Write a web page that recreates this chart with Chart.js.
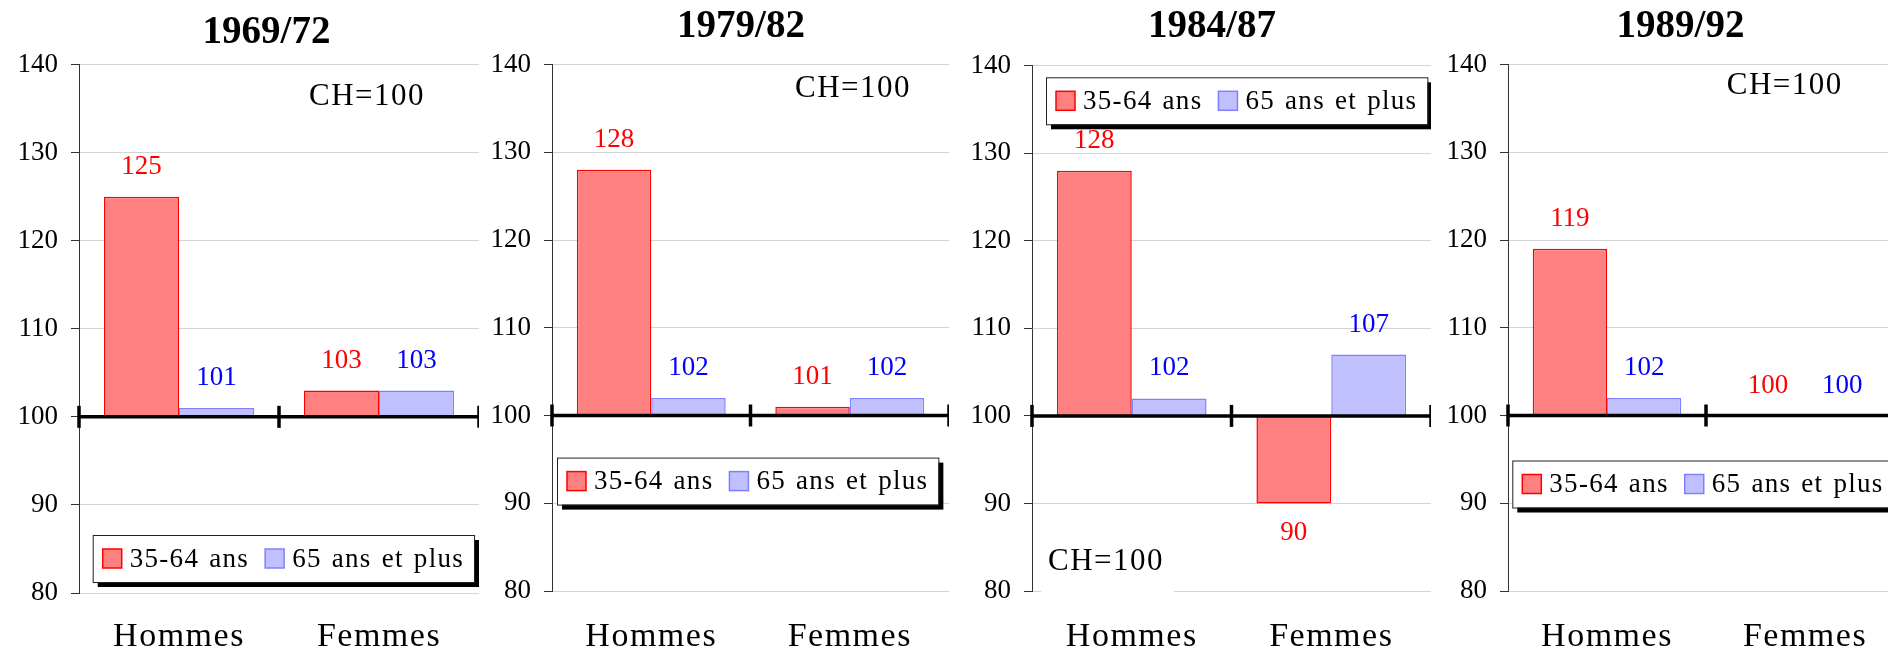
<!DOCTYPE html>
<html><head><meta charset="utf-8">
<script src="https://cdn.jsdelivr.net/npm/chart.js@4"></script>
<style>
html,body{margin:0;padding:0;background:#fff;overflow:hidden;width:1888px;height:651px;position:relative;}
.panel{position:absolute;top:0;}
</style></head><body>
<script>
// ---------- data ----------
const periods = ['1969/72', '1979/82', '1984/87', '1989/92'];
const categories = ['Hommes', 'Femmes'];
const seriesNames = ['35-64 ans', '65 ans et plus'];
const values3564 = [[125, 103], [128, 101], [128, 90], [119, 100]];
const values65plus = [[101, 103], [102, 102], [102, 107], [102, 100]];
const baseValue = 100;
const yMin = 80, yMax = 140, yStep = 10;
const noteText = 'CH=100';

// ---------- styles / layout ----------
const FONT = '"Liberation Serif", "Times New Roman", serif';
const fills = ['#FF8080', '#C0C0FF'];
const borders = ['#FF0000', '#8080FF'];
const labelColors = ['#FF0000', '#0000FF'];

const panelLayout = [
  {left: 0,    width: 479, padL: 54, yW: 25, tTop: 9.6, tBot: 8.1,  xH: 58, xPad: 23.2, legend: {x: 92.7, y: 535},   note: {x: 309,   y: 95.7,  bg: false}},
  {left: 473,  width: 476, padL: 60, yW: 19, tTop: 3.6, tBot: 14.1, xH: 60, xPad: 25.2, legend: {x: 84,   y: 457.6}, note: {x: 322,   y: 87.4,  bg: false}},
  {left: 953,  width: 478, padL: 40, yW: 39, tTop: 3.6, tBot: 15.3, xH: 60, xPad: 25.2, legend: {x: 93,   y: 77.3},  note: {x: 95,    y: 560.7, bg: true}},
  {left: 1429, width: 475, padL: 28, yW: 51, tTop: 3.6, tBot: 14.1, xH: 60, xPad: 25.2, legend: {x: 83.3, y: 460.5}, note: {x: 297.7, y: 85.3,  bg: false}}
];

Chart.defaults.font.family = FONT;
Chart.defaults.color = '#000';

const overlayPlugin = {
  id: 'overlay',
  afterLayout(chart) {
    const sc = chart.scales.x;
    if (sc && !sc._lsPatched) {
      const orig = sc.drawLabels;
      sc.drawLabels = function (area) {
        const c = this.ctx;
        c.save();
        c.letterSpacing = '1.5px';
        orig.call(this, area);
        c.restore();
      };
      sc._lsPatched = true;
    }
    const ys = chart.scales.y;
    if (ys && !ys._clipPatched) {
      ys._computeLabelArea = function () { return undefined; };
      ys._clipPatched = true;
    }
  },
  afterDatasetsDraw(chart, args, opts) {
    const ctx = chart.ctx;
    const area = chart.chartArea;
    const xs = chart.scales.x, ys = chart.scales.y;
    const y0 = ys.getPixelForValue(baseValue);
    const n = chart.data.labels.length;
    const step = n > 1 ? xs.getPixelForValue(1) - xs.getPixelForValue(0) : (area.right - area.left);
    ctx.save();
    // reference axis at 100
    ctx.strokeStyle = '#000';
    ctx.lineWidth = 3.5;
    ctx.beginPath();
    ctx.moveTo(area.left, y0);
    ctx.lineTo(area.right, y0);
    ctx.stroke();
    for (let k = 0; k <= n; k++) {
      const x = xs.getPixelForValue(0) - step / 2 + k * step;
      ctx.beginPath();
      ctx.moveTo(x, y0 - 11);
      ctx.lineTo(x, y0 + 11);
      ctx.stroke();
    }
    // value labels
    ctx.font = '27px ' + FONT;
    ctx.textAlign = 'center';
    ctx.textBaseline = 'middle';
    chart.data.datasets.forEach((d, i) => {
      const meta = chart.getDatasetMeta(i);
      meta.data.forEach((el, j) => {
        const v = d.data[j];
        const y = v >= baseValue ? el.y - 30 : el.y + 29;
        ctx.fillStyle = labelColors[i];
        ctx.fillText(String(v), el.x, y);
      });
    });
    // note
    const note = opts.note;
    ctx.font = '31px ' + FONT;
    ctx.letterSpacing = '1.5px';
    ctx.textAlign = 'left';
    const nw = ctx.measureText(noteText).width;
    if (note.bg) {
      ctx.fillStyle = '#fff';
      ctx.fillRect(note.x - 7, note.y - 24, nw + 17, 56);
    }
    ctx.fillStyle = '#000';
    ctx.fillText(noteText, note.x, note.y + 1);
    // legend
    const lg = opts.legend;
    ctx.font = '27px ' + FONT;
    ctx.letterSpacing = '1.3px';
    ctx.wordSpacing = '2px';
    const sw = 19, padIn = 10, gapSw = 8, gapItem = 16, h = 47;
    const ds = chart.data.datasets;
    const widths = ds.map(d => ctx.measureText(d.label).width);
    const w = padIn * 2 + widths.reduce((a, b) => a + b, 0) + ds.length * (sw + gapSw) + gapItem * (ds.length - 1);
    ctx.fillStyle = '#000';
    ctx.fillRect(lg.x + 5, lg.y + 5, w, h);
    ctx.fillStyle = '#fff';
    ctx.fillRect(lg.x, lg.y, w, h);
    ctx.strokeStyle = '#222';
    ctx.lineWidth = 1;
    ctx.strokeRect(lg.x + 0.5, lg.y + 0.5, w, h);
    let x = lg.x + padIn;
    const cy = lg.y + h / 2;
    ds.forEach((d, i) => {
      ctx.fillStyle = d.backgroundColor;
      ctx.fillRect(x, cy - sw / 2, sw, sw);
      ctx.strokeStyle = d.borderColor;
      ctx.lineWidth = 1.5;
      ctx.strokeRect(x, cy - sw / 2, sw, sw);
      x += sw + gapSw;
      ctx.fillStyle = '#000';
      ctx.textBaseline = 'middle';
      ctx.fillText(d.label, x, cy + 1);
      x += widths[i] + gapItem;
    });
    ctx.restore();
  }
};

periods.forEach((period, p) => {
  const L = panelLayout[p];
  const div = document.createElement('div');
  div.className = 'panel';
  div.style.left = L.left + 'px';
  div.style.width = L.width + 'px';
  div.style.height = '651px';
  const cv = document.createElement('canvas');
  cv.width = L.width;
  cv.height = 651;
  cv.style.width = L.width + 'px';
  cv.style.height = '651px';
  div.appendChild(cv);
  document.body.appendChild(div);

  new Chart(cv, {
    type: 'bar',
    data: {
      labels: categories,
      datasets: [
        {label: seriesNames[0], data: values3564[p], backgroundColor: fills[0], borderColor: borders[0], borderWidth: 1.5, base: baseValue},
        {label: seriesNames[1], data: values65plus[p], backgroundColor: fills[1], borderColor: borders[1], borderWidth: 1.5, base: baseValue}
      ]
    },
    options: {
      responsive: false,
      maintainAspectRatio: false,
      animation: false,
      devicePixelRatio: 1,
      categoryPercentage: 0.75,
      barPercentage: 1,
      layout: {padding: {left: L.padL, right: 0, top: 0, bottom: 0}},
      plugins: {
        legend: {display: false},
        tooltip: {enabled: false},
        title: {
          display: true,
          text: period,
          color: '#000',
          font: {size: 39, weight: 'bold', family: FONT, lineHeight: 1.2},
          padding: {top: L.tTop, bottom: L.tBot}
        },
        overlay: {legend: L.legend, note: L.note}
      },
      scales: {
        x: {
          type: 'category',
          offset: true,
          grid: {display: false, drawTicks: false},
          border: {display: false},
          ticks: {font: {size: 34, family: FONT, lineHeight: 1.2}, color: '#000', padding: L.xPad, maxRotation: 0, autoSkip: false},
          afterFit: s => { s.height = L.xH; }
        },
        y: {
          min: yMin,
          max: yMax,
          ticks: {stepSize: yStep, font: {size: 27, family: FONT}, color: '#000', padding: 13},
          grid: {color: '#d4d4d4', lineWidth: 1, tickColor: '#333', tickLength: 8, drawTicks: true},
          border: {display: true, color: '#333', width: 1},
          afterFit: s => { s.width = L.yW; }
        }
      }
    },
    plugins: [overlayPlugin]
  });
});
</script>
</body></html>
